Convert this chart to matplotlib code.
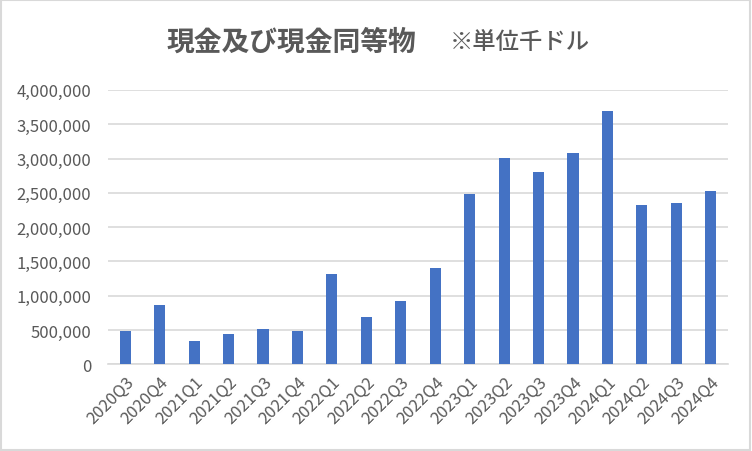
import matplotlib.pyplot as plt
from matplotlib.patches import Rectangle
from matplotlib.ticker import FuncFormatter

plt.rcParams['font.family'] = ['Noto Sans CJK JP', 'DejaVu Sans']

quarters = ['2020Q3', '2020Q4', '2021Q1', '2021Q2', '2021Q3', '2021Q4',
            '2022Q1', '2022Q2', '2022Q3', '2022Q4', '2023Q1', '2023Q2',
            '2023Q3', '2023Q4', '2024Q1', '2024Q2', '2024Q3', '2024Q4']
cash = [486000, 865000, 340000, 442000, 515000, 486000,
        1317000, 690000, 923000, 1405000, 2484000, 3009000,
        2804000, 3081000, 3694000, 2323000, 2352000, 2527000]
yticks = [0, 500000, 1000000, 1500000, 2000000, 2500000, 3000000, 3500000, 4000000]

gray = '#595959'

fig = plt.figure(figsize=(7.52, 4.52), dpi=100)
ax = fig.add_axes([0.1436, 0.1918, 0.8245, 0.607])

x = range(len(quarters))
ax.bar(x, cash, width=0.32, color='#4472C4', zorder=3)

ax.set_xlim(-0.5, len(quarters) - 0.5)
ax.set_ylim(0, 4000000)
ax.set_yticks(yticks)
ax.yaxis.set_major_formatter(FuncFormatter(lambda v, p: f'{int(v):,}'))
ax.set_xticks(list(x))
ax.set_xticklabels(quarters, rotation=45, ha='right', rotation_mode='anchor')

ax.grid(axis='y', color='#d9d9d9', linewidth=1.2, zorder=0)
for s in ['top', 'right', 'left']:
    ax.spines[s].set_visible(False)
ax.spines['bottom'].set_color('#d9d9d9')
ax.spines['bottom'].set_linewidth(1.2)
ax.tick_params(axis='both', length=0, colors=gray, labelsize=12)
ax.tick_params(axis='y', pad=12)
ax.tick_params(axis='x', pad=6)

fig.text(0.221, 0.905, '現金及び現金同等物', ha='left', va='center',
         fontsize=20, fontweight='bold', color=gray)
fig.text(0.598, 0.905, '※単位千ドル', ha='left', va='center',
         fontsize=16.8, fontweight='medium', color=gray)

fig.patches.append(Rectangle((0.001, 0.002), 0.997, 0.995, transform=fig.transFigure,
                             fill=False, edgecolor='#d9d9d9', linewidth=1.5))

fig.savefig('out.png', dpi=100)
